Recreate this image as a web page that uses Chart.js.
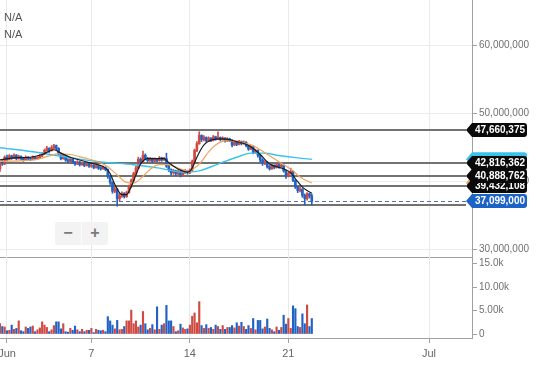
<!DOCTYPE html>
<html>
<head>
<meta charset="utf-8">
<script src="https://cdn.jsdelivr.net/npm/chart.js@4.4.0/dist/chart.umd.min.js"></script>
<style>
    body { margin: 0; background: #fff; }
    #wrap { position: relative; width: 540px; height: 368px; overflow: hidden; font-family: "Liberation Sans", Arial, sans-serif; }
    canvas { position: absolute; left: 0; }
    #price { top: 0; }
    #volume { top: 257px; }
    .na { position: absolute; left: 4px; font-size: 11px; color: #555; line-height: 12px; }
    #zoomBox { position: absolute; left: 55px; top: 222px; width: 53px; height: 23px; background: #f3f3f3; border-radius: 2px; display: flex; }
    #zoomBox span { flex: 1; text-align: center; line-height: 22px; font-size: 16px; font-weight: bold; color: #7a7a7a; }
    #zoomBox span + span { border-left: 1px solid #fbfbfb; }
</style>
</head>
<body>
<div id="wrap">
    <canvas id="price" width="540" height="258"></canvas>
    <canvas id="volume" width="540" height="111"></canvas>
    <div class="na" style="top:11px">N/A</div>
    <div class="na" style="top:28px">N/A</div>
    <div id="zoomBox"><span>−</span><span>+</span></div>
</div>
<script>
    // 4-hour candles, prices in millions of KRW, volumes in thousands
    const UNIT = 1e6
    const startDay = 0.5        // first candle: 31 May 12:00 (day 1 = 1 Jun)
    const barsPerDay = 6
    const firstOpen = 41.9

    const closes = [
        42.9, 42.6, 43.6, 43.3, 43.8, 43.5, 43.9, 43.4, 43.7, 43.5,
        43.2, 43.6, 43.4, 43.3, 43.6, 43.4, 43.5, 43.8, 44.1, 44.6,
        44.9, 44.6, 45.0, 45.3, 44.9, 44.1, 43.4, 43.8, 43.2, 43.0,
        43.3, 42.9, 42.6, 42.9, 42.5, 42.7, 42.4, 42.6, 42.3, 42.4,
        42.1, 42.3, 42.0, 41.9, 42.1, 41.8, 40.8, 39.9, 38.6, 38.9,
        37.5, 37.9, 38.3, 37.8, 38.4, 39.3, 40.2, 41.2, 42.0, 43.3,
        42.8, 43.9, 43.4, 43.1, 43.4, 43.0, 43.3, 43.1, 43.5, 43.2,
        43.4, 42.3, 41.8, 41.3, 41.6, 41.2, 41.5, 41.0, 41.3, 41.6,
        41.3, 41.7, 43.0, 44.6, 45.6, 46.8, 46.2, 46.5, 46.0, 46.4,
        46.1, 46.6, 46.3, 46.5, 46.2, 46.4, 46.0, 46.3, 46.1, 45.4,
        45.8, 45.5, 45.9, 45.6, 45.8, 45.3, 44.8, 45.1, 44.3, 44.6,
        43.9, 43.2, 42.7, 42.9, 42.2, 41.9, 42.4, 42.1, 42.5, 42.2,
        42.4, 41.6, 40.8, 41.2, 41.5, 40.2, 39.2, 38.7, 38.9, 38.0,
        37.5, 38.2, 37.9, 37.099
    ]
    const highs = [
        43.0, 43.1, 43.8, 43.9, 44.0, 43.9, 44.1, 44.0, 43.9, 43.8,
        43.6, 43.8, 43.7, 43.6, 43.8, 43.7, 43.7, 44.0, 44.3, 44.8,
        45.2, 45.0, 45.3, 45.5, 45.4, 45.0, 44.2, 44.0, 43.9, 43.4,
        43.5, 43.4, 43.0, 43.1, 43.0, 42.9, 42.8, 42.8, 42.7, 42.6,
        42.5, 42.5, 42.4, 42.2, 42.3, 42.2, 41.9, 41.0, 40.0, 39.3,
        39.0, 38.3, 38.5, 38.4, 38.6, 39.5, 40.4, 41.4, 42.3, 43.6,
        43.5, 44.5, 44.1, 43.6, 43.6, 43.5, 43.5, 43.4, 43.7, 43.6,
        43.6, 44.2, 42.4, 41.9, 41.8, 41.7, 41.7, 41.6, 41.5, 41.8,
        41.7, 41.9, 43.2, 44.8, 45.9, 47.35, 46.9, 46.8, 46.6, 46.6,
        46.5, 46.8, 46.7, 47.35, 46.6, 46.6, 46.5, 46.5, 46.4, 46.2,
        46.0, 45.9, 46.1, 46.0, 46.0, 45.9, 45.4, 45.3, 45.2, 44.8,
        44.7, 44.0, 43.4, 43.1, 43.0, 42.4, 42.6, 42.5, 42.7, 42.6,
        42.6, 42.5, 41.7, 41.4, 42.0, 41.6, 40.3, 39.4, 39.2, 39.0,
        38.2, 38.4, 38.3, 38.2
    ]
    const lows = [
        41.5, 42.4, 42.5, 43.1, 43.2, 43.3, 43.4, 43.2, 43.3, 43.2,
        43.0, 43.1, 43.2, 43.1, 43.2, 43.2, 43.3, 43.4, 43.7, 44.0,
        44.5, 44.3, 44.5, 44.8, 44.7, 43.9, 43.2, 43.3, 43.0, 42.8,
        42.9, 42.7, 42.4, 42.5, 42.3, 42.4, 42.2, 42.3, 42.1, 42.1,
        41.9, 42.0, 41.8, 41.7, 41.8, 41.6, 40.5, 39.6, 38.3, 38.4,
        36.4, 37.2, 37.7, 37.6, 37.7, 38.3, 39.1, 40.0, 41.0, 41.9,
        42.6, 42.7, 43.2, 42.9, 43.0, 42.8, 42.9, 42.9, 43.0, 43.0,
        43.1, 42.1, 41.5, 41.0, 41.1, 40.9, 41.0, 40.7, 40.8, 41.2,
        41.1, 41.2, 41.6, 42.9, 44.4, 45.5, 45.9, 46.0, 45.8, 45.9,
        45.9, 46.0, 46.1, 46.2, 46.0, 46.1, 45.8, 45.9, 45.9, 45.1,
        45.3, 45.3, 45.4, 45.4, 45.5, 45.1, 44.6, 44.7, 44.1, 44.2,
        43.6, 42.9, 42.4, 42.5, 42.0, 41.7, 41.8, 41.9, 42.0, 42.0,
        42.1, 41.4, 40.5, 40.7, 41.1, 40.0, 39.0, 38.4, 38.5, 37.7,
        36.57, 37.3, 37.6, 36.6
    ]
    const volumes = [
        2.2, 1.6, 1.5, 0.7, 0.8, 1.9, 1.0, 1.2, 2.8, 0.7,
        0.5, 1.5, 1.2, 1.5, 1.7, 0.5, 0.9, 1.3, 2.6, 1.9,
        1.4, 0.5, 0.9, 1.8, 2.6, 2.6, 1.1, 2.2, 0.5, 0.4,
        1.2, 0.8, 1.7, 0.9, 0.5, 1.0, 0.5, 0.8, 0.8, 1.2,
        0.3, 1.0, 0.8, 0.7, 0.8, 0.5, 3.7, 2.8, 1.9, 1.1,
        2.9, 0.9, 1.0, 1.6, 2.8, 2.8, 5.1, 2.2, 2.8, 1.5,
        1.9, 4.8, 2.2, 0.9, 1.2, 2.0, 0.9, 5.8, 1.0, 1.9,
        2.2, 6.1, 2.8, 2.8, 1.6, 0.5, 0.7, 2.1, 1.3, 1.0,
        1.1, 1.9, 3.8, 4.5, 2.4, 6.9, 1.8, 1.2, 2.0, 1.2,
        1.4, 1.0, 1.9, 1.6, 1.0, 1.8, 1.0, 1.4, 1.4, 1.8,
        1.3, 2.4, 1.7, 2.5, 1.6, 1.0, 1.8, 1.2, 3.3, 0.9,
        2.9, 2.9, 1.1, 1.5, 3.2, 1.2, 0.9, 0.5, 1.5, 0.8,
        1.4, 4.0, 2.1, 3.3, 1.2, 6.0, 5.4, 1.6, 1.4, 4.3,
        2.2, 6.2, 1.6, 3.3
    ]

    // moving averages: [candle index, value]
    const shortMA = [
        [0, 43.2], [6, 43.5], [13, 43.6], [18, 44.0], [23, 44.7], [26, 44.2], [30, 43.6], [38, 42.8],
        [45, 42.0], [47, 41.2], [49, 39.6], [52, 38.1], [54, 38.1], [56, 39.3], [58, 41.0], [60, 42.6],
        [63, 43.4], [70, 43.4], [72, 42.8], [77, 41.7], [80, 41.4], [82, 42.0], [84, 43.6], [87, 45.4],
        [90, 46.1], [95, 46.3], [101, 45.9], [105, 45.5], [108, 44.9], [111, 44.0], [115, 42.6], [118, 42.2],
        [121, 41.9], [124, 41.3], [127, 40.0], [129, 39.2], [133, 38.3]
    ]
    const midMA = [
        [0, 43.0], [10, 43.1], [16, 43.3], [21, 43.8], [25, 44.1], [30, 44.0], [36, 43.5], [42, 42.9],
        [46, 42.2], [50, 41.0], [54, 39.9], [57, 39.8], [61, 40.8], [64, 41.8], [68, 42.5], [72, 42.5],
        [76, 42.0], [80, 41.6], [83, 42.0], [86, 43.0], [89, 44.4], [92, 45.4], [96, 46.0], [100, 46.0],
        [104, 45.7], [108, 45.3], [111, 44.7], [116, 43.6], [121, 42.5], [125, 41.6], [128, 40.7], [133, 39.8]
    ]
    const longMA = [
        [0, 45.0], [14, 44.4], [29, 43.6], [43, 42.9], [57, 42.5], [68, 42.0], [78, 41.4], [85, 41.6],
        [93, 42.6], [101, 43.6], [107, 44.2], [113, 44.2], [118, 43.9], [127, 43.5], [133, 43.3]
    ]

    const levels = [39432108, 40888762, 42816362, 47660375]
    const extraLevel = 36550000
    const lastPrice = 37099000

    const xTickDays = [1, 7, 14, 21, 31]
    const xTickLabels = ['Jun', '7', '14', '21', 'Jul']
    const priceTicks = [30e6, 40e6, 50e6, 60e6]
    const volTicks = [0, 5, 10, 15]
    const volTickLabels = ['0', '5.00k', '10.00k', '15.0k']

    const FONT = '"Liberation Sans", Arial, sans-serif'
    const UP = '#cf4a43'
    const DOWN = '#2262c3'
    const xMin = 0.5024
    const xMax = 34.056

    const dayOf = (i) => startDay + i / barsPerDay
    const opens = closes.map((c, i) => (i === 0 ? firstOpen : closes[i - 1]))
    const colors = closes.map((c, i) => (c >= opens[i] ? UP : DOWN))
    const maData = (pts) => pts.map(([i, v]) => ({ x: dayOf(i), y: v * UNIT }))

    const fmt = (v) => Math.round(v).toLocaleString('en-US')

    function tag(ctx, left, py, fill, text) {
        const tip = left - 6
        const right = left + 55
        const top = py - 7
        const bottom = py + 7
        ctx.beginPath()
        ctx.moveTo(tip, py)
        ctx.lineTo(left, top)
        ctx.lineTo(right - 3, top)
        ctx.arcTo(right, top, right, top + 3, 3)
        ctx.lineTo(right, bottom - 3)
        ctx.arcTo(right, bottom, right - 3, bottom, 3)
        ctx.lineTo(left, bottom)
        ctx.closePath()
        ctx.fillStyle = fill
        ctx.fill()
        if (text) {
            ctx.fillStyle = '#fff'
            ctx.font = 'bold 10px ' + FONT
            ctx.textBaseline = 'middle'
            ctx.textAlign = 'left'
            ctx.fillText(text, left + 3, py + 0.5)
        }
    }

    const levelPlugin = {
        id: 'levels',
        beforeDatasetsDraw(chart) {
            const { ctx, chartArea: a, scales: { y } } = chart
            ctx.save()
            ctx.beginPath()
            ctx.rect(a.left, a.top, a.width, a.height)
            ctx.clip()
            ctx.strokeStyle = '#727272'
            ctx.lineWidth = 2
            levels.concat([extraLevel]).forEach((v) => {
                const py = Math.round(y.getPixelForValue(v))
                ctx.beginPath()
                ctx.moveTo(a.left, py)
                ctx.lineTo(a.right - 6, py)
                ctx.stroke()
            })
            const py = Math.round(y.getPixelForValue(lastPrice)) + 0.5
            ctx.strokeStyle = '#4d74b3'
            ctx.lineWidth = 1
            ctx.setLineDash([4, 3])
            ctx.beginPath()
            ctx.moveTo(a.left, py)
            ctx.lineTo(a.right - 6, py)
            ctx.stroke()
            ctx.restore()
        },
        afterDraw(chart) {
            const { ctx, chartArea: a, scales: { y } } = chart
            ctx.save()
            tag(ctx, a.right, y.getPixelForValue(longMA[longMA.length - 1][1] * UNIT), '#3cc2ea')
            tag(ctx, a.right, y.getPixelForValue(midMA[midMA.length - 1][1] * UNIT), '#f0a35a')
            levels.forEach((v) => tag(ctx, a.right, Math.round(y.getPixelForValue(v)), '#0a0a0a', fmt(v)))
            tag(ctx, a.right, Math.round(y.getPixelForValue(lastPrice)), '#1c63c6', fmt(lastPrice))
            ctx.restore()
        },
    }

    const xScale = (showLabels) => ({
        type: 'linear',
        min: xMin,
        max: xMax,
        offset: false,
        afterBuildTicks: (s) => { s.ticks = xTickDays.map((v) => ({ value: v })) },
        afterFit: (s) => {
            s.height = showLabels ? 30 : 1
            s.paddingLeft = 0
            s.paddingRight = 0
        },
        grid: { color: '#e9e9e9', tickColor: '#a0a0a0', tickLength: 5, drawTicks: showLabels, offset: false },
        border: { color: '#a0a0a0' },
        ticks: {
            display: showLabels,
            color: '#666',
            font: { size: 11, family: FONT },
            padding: 4,
            maxRotation: 0,
            autoSkip: false,
            callback: (v, i) => xTickLabels[i],
        },
    })

    new Chart(document.getElementById('price'), {
        type: 'bar',
        data: {
            datasets: [
                { type: 'line', data: maData(shortMA), borderColor: '#1b1b1b', borderWidth: 1.2, pointRadius: 0, cubicInterpolationMode: 'monotone' },
                { type: 'line', data: maData(midMA), borderColor: '#f0a35a', borderWidth: 1.2, pointRadius: 0, cubicInterpolationMode: 'monotone' },
                { type: 'line', data: maData(longMA), borderColor: '#3cc2ea', borderWidth: 1.4, pointRadius: 0, cubicInterpolationMode: 'monotone' },
                {
                    data: closes.map((c, i) => ({ x: dayOf(i), y: [opens[i] * UNIT, c * UNIT] })),
                    backgroundColor: colors, barThickness: 2, minBarLength: 1, grouped: false,
                },
                {
                    data: closes.map((c, i) => ({ x: dayOf(i), y: [lows[i] * UNIT, highs[i] * UNIT] })),
                    backgroundColor: colors, barThickness: 1, grouped: false,
                },
            ],
        },
        options: {
            responsive: false,
            animation: false,
            events: [],
            layout: { padding: 0 },
            plugins: { legend: { display: false }, tooltip: { enabled: false } },
            scales: {
                x: xScale(false),
                y: {
                    position: 'right',
                    min: 28.93e6,
                    max: 66.72e6,
                    afterBuildTicks: (s) => { s.ticks = priceTicks.map((v) => ({ value: v })) },
                    afterFit: (s) => { s.width = 68; s.paddingTop = 0; s.paddingBottom = 0 },
                    grid: { color: '#ececec', tickColor: '#a0a0a0', tickLength: 5 },
                    border: { color: '#a0a0a0' },
                    ticks: { color: '#707070', font: { size: 10, family: FONT }, padding: 2, callback: (v) => fmt(v) },
                },
            },
        },
        plugins: [levelPlugin],
    })

    new Chart(document.getElementById('volume'), {
        type: 'bar',
        data: {
            datasets: [
                {
                    data: volumes.map((v, i) => ({ x: dayOf(i), y: v })),
                    backgroundColor: colors, barThickness: 1.5, grouped: false,
                },
            ],
        },
        options: {
            responsive: false,
            animation: false,
            events: [],
            layout: { padding: 0 },
            plugins: { legend: { display: false }, tooltip: { enabled: false } },
            scales: {
                x: xScale(true),
                y: {
                    position: 'right',
                    min: -0.85,
                    max: 16.42,
                    afterBuildTicks: (s) => { s.ticks = volTicks.map((v) => ({ value: v })) },
                    afterFit: (s) => { s.width = 68; s.paddingTop = 0; s.paddingBottom = 0 },
                    grid: { drawOnChartArea: false, tickColor: '#a0a0a0', tickLength: 5 },
                    border: { color: '#a0a0a0' },
                    ticks: { color: '#707070', font: { size: 10, family: FONT }, padding: 2, callback: (v, i) => volTickLabels[i] },
                },
            },
        },
    })
</script>
</body>
</html>
